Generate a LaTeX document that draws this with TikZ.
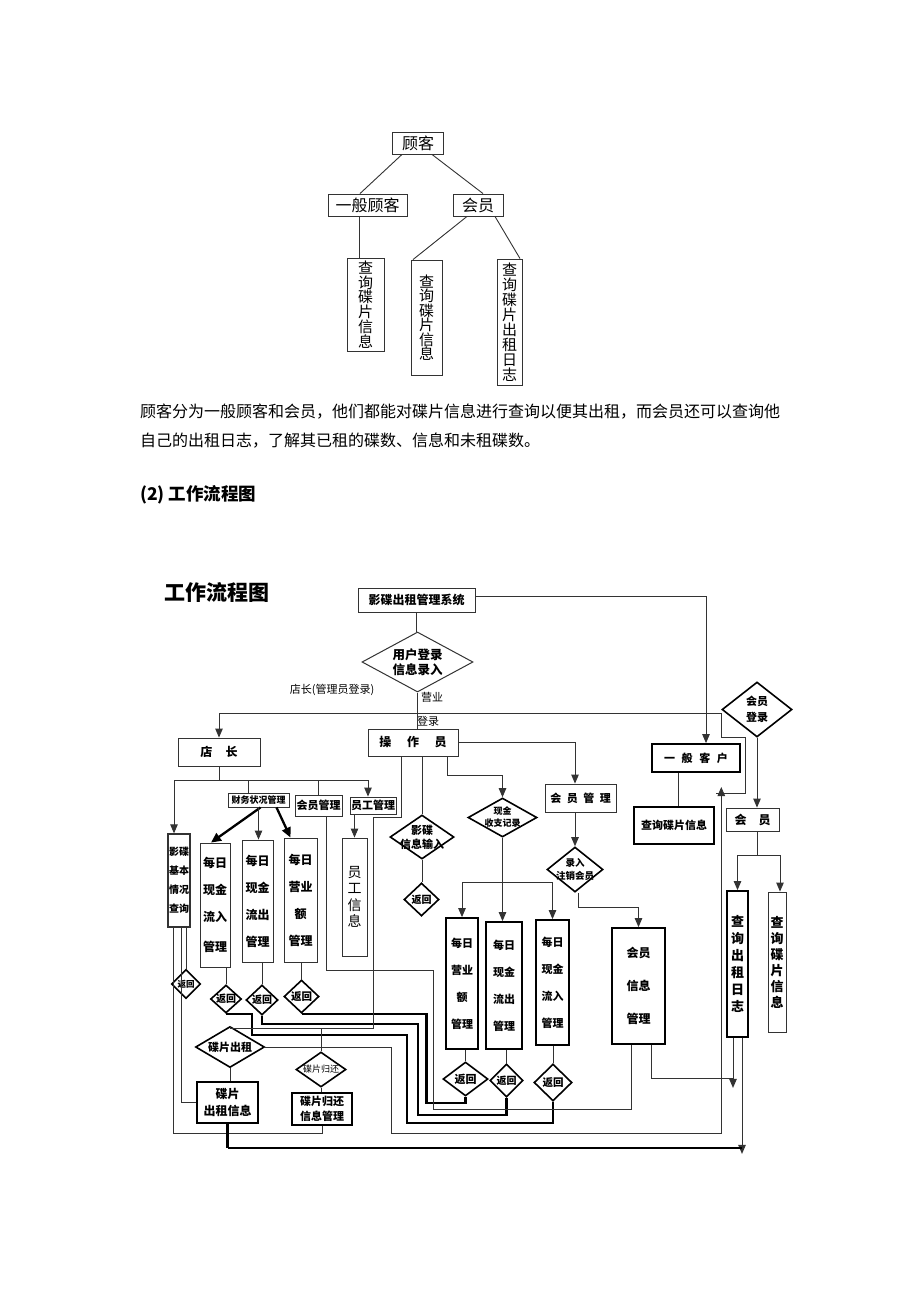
\documentclass[tikz,border=0pt]{standalone}
\usepackage{fontspec}
\setmainfont{Noto Sans CJK SC}
\usetikzlibrary{arrows.meta,shapes.geometric,calc}
\newcommand\myfs[2]{\fontsize{#1pt}{#2pt}\selectfont}
\begin{document}
\begin{tikzpicture}[x=1pt,y=-1pt,
  ln/.style={line width=0.9pt,draw=black!80},
  arr/.style={ln,-{Triangle[length=9pt,width=7.5pt]}},
  thk/.style={line width=2.3pt,draw=black},
  tarr/.style={thk,-{Triangle[length=10pt,width=9pt]}},
  sz/.style 2 args={minimum width=#1pt,minimum height=#2pt},
  box/.style={draw=black!80,line width=0.9pt,inner sep=0pt,align=center},
  tbox/.style={box,draw=black,line width=1.8pt},
  dia/.style={diamond,draw=black,line width=1.6pt,inner sep=0pt},
  lab/.style={inner sep=0pt,align=center},
  tr/.style={draw=black!80,line width=0.9pt,inner sep=0pt,align=center},
]
\useasboundingbox (0,0) rectangle (920,1302);
\fill[white] (0,0) rectangle (920,1302);

% ---------- customer tree ----------
\node[tr,sz={51}{22},font=\myfs{16}{16}] (t0) at (418,143) {顾客};
\node[tr,sz={79}{22},font=\myfs{16}{16}] (t1) at (367.5,205) {一般顾客};
\node[tr,sz={50}{22},font=\myfs{16}{16}] (t2) at (478,205) {会员};
\node[tr,sz={37}{93},font=\myfs{15}{14.8}] (t3) at (365.5,304.5) {查\\询\\碟\\片\\信\\息};
\node[tr,sz={31}{115},font=\myfs{15}{14.5}] (t4) at (426.5,317.5) {查\\询\\碟\\片\\信\\息};
\node[tr,sz={25}{126},font=\myfs{15}{15}] (t5) at (509.5,322) {查\\询\\碟\\片\\出\\租\\日\\志};
\draw[ln] ($(t0.south)+(-16,0)$) -- ($(t1.north)+(-7.5,0)$);
\draw[ln] ($(t0.south)+(14,0)$) -- ($(t2.north)+(5,0)$);
\draw[ln] ($(t1.south)+(-8.5,0)$) -- ($(t3.north)+(-6.5,0)$);
\draw[ln] ($(t2.south)+(-11,0)$) -- ($(t4.north)+(-13.5,0)$);
\draw[ln] ($(t2.south)+(17,0)$) -- ($(t5.north)+(10.5,0)$);

% ---------- paragraph and heading ----------
\node[anchor=west,inner sep=0pt,font=\myfs{16}{16}] (p1) at (140,412) {顾客分为一般顾客和会员，他们都能对碟片信息进行查询以便其出租，而会员还可以查询他};
\node[anchor=west,inner sep=0pt,font=\myfs{16}{16}] (p2) at (140,441) {自己的出租日志，了解其已租的碟数、信息和未租碟数。};
\node[anchor=west,inner sep=0pt,font=\bfseries\myfs{17.5}{18}] (h2) at (140,495) {(2)\hspace{4pt}工作流程图};

% ---------- flow chart nodes ----------
\node[inner sep=0pt,font=\bfseries\myfs{21}{21}] (ft) at (217,592) {工作流程图};
\node[box,sz={117}{24},font=\bfseries\myfs{12}{12}] (sys) at (416.5,600) {影碟出租管理系统};
\node[dia,draw=black!80,line width=1pt,sz={111}{60}] (login) at (417.5,662) {};
\node[lab,font=\bfseries\myfs{12.5}{15}] (logint) at (login) {用户登录\\信息录入};
\node[inner sep=0pt,font=\myfs{11}{11}] (lb1) at (332,690) {店长(管理员登录)};
\node[inner sep=0pt,font=\myfs{11}{11}] (lb2) at (432,697) {营业};
\node[inner sep=0pt,font=\myfs{11}{11}] (lb3) at (428,721) {登录};

\node[box,sz={82}{28},font=\bfseries\myfs{12}{12}] (shop) at (219,752) {店\hspace{1.1em}长};
\node[box,sz={90}{27},font=\bfseries\myfs{12}{12}] (op) at (413,742.5) {操\hspace{1.3em}作\hspace{1.3em}员};
\node[dia,sz={70}{55}] (ml) at (757,709.5) {};
\node[lab,font=\bfseries\myfs{11}{16}] (mlt) at (ml) {会员\\登录};
\node[tbox,sz={88}{28},font=\bfseries\myfs{11}{11}] (gen) at (696,758) {一\hspace{0.6em}般\hspace{0.6em}客\hspace{0.6em}户};

\node[box,sz={61}{14},font=\bfseries\myfs{9}{9}] (fin) at (258.5,800) {财务状况管理};
\node[box,sz={47}{21},font=\bfseries\myfs{11}{11}] (mm1) at (318.5,805.5) {会员管理};
\node[box,sz={46}{17},font=\bfseries\myfs{11}{11}] (emp) at (373,805.5) {员工管理};
\node[box,line width=1.3pt,sz={22}{93},font=\bfseries\myfs{10}{19}] (q1) at (179,880.5) {影碟\\基本\\情况\\查询};
\node[box,sz={30}{124},font=\bfseries\myfs{12}{27}] (in1) at (215,905) {每日\\现金\\流入\\[3pt]管理};
\node[box,sz={31}{122},font=\bfseries\myfs{12}{27}] (out1) at (257.5,901) {每日\\现金\\流出\\管理};
\node[box,sz={33}{124},font=\bfseries\myfs{12}{27}] (rev1) at (300.5,900) {每日\\营业\\额\\管理};
\node[box,sz={25}{118},font=\myfs{14}{16.5}] (empi) at (354.5,897) {员\\工\\信\\息};

\node[dia,sz={29}{29}] (r0) at (186,984) {};
\node[lab,font=\bfseries\myfs{8.5}{9}] (r0t) at (r0) {返回};
\node[dia,sz={31}{28}] (r1) at (226,999) {};
\node[lab,font=\bfseries\myfs{10}{10}] (r1t) at (r1) {返回};
\node[dia,sz={32}{30}] (r2) at (262,1000) {};
\node[lab,font=\bfseries\myfs{10}{10}] (r2t) at (r2) {返回};
\node[dia,sz={35}{33}] (r3) at (301.5,996.5) {};
\node[lab,font=\bfseries\myfs{10.5}{10}] (r3t) at (r3) {返回};

\node[dia,sz={69}{41}] (rent) at (230,1047) {};
\node[lab,font=\bfseries\myfs{11}{11}] (rentt) at (rent) {碟片出租};
\node[tbox,sz={61}{41},font=\bfseries\myfs{12}{17}] (renti) at (227.5,1102.5) {碟片\\出租信息};
\node[dia,sz={50}{35}] (ret) at (321,1069.5) {};
\node[lab,font=\myfs{9}{9}] (rett) at (ret) {碟片归还};
\node[tbox,sz={60}{32},font=\bfseries\myfs{11}{15}] (reti) at (322,1109) {碟片归还\\信息管理};

\node[dia,sz={64}{44}] (vin) at (422,837) {};
\node[lab,font=\bfseries\myfs{11}{14}] (vint) at (vin) {影碟\\信息输入};
\node[dia,sz={35}{33}] (r4) at (421.5,899.5) {};
\node[lab,font=\bfseries\myfs{10}{10}] (r4t) at (r4) {返回};
\node[dia,sz={69}{39}] (cash) at (502.5,817.5) {};
\node[lab,font=\bfseries\myfs{9}{12}] (casht) at (cash) {现金\\收支记录};
\node[box,sz={71}{28},font=\bfseries\myfs{11}{11}] (mm2) at (580.5,798) {会\hspace{0.5em}员\hspace{0.5em}管\hspace{0.5em}理};
\node[dia,sz={56}{45}] (reg) at (575,869.5) {};
\node[lab,font=\bfseries\myfs{9.5}{13}] (regt) at (reg) {录入\\注销会员};

\node[tbox,sz={32}{131},font=\bfseries\myfs{11}{27}] (rev2) at (462,983.5) {每日\\营业\\额\\管理};
\node[tbox,sz={36}{127},font=\bfseries\myfs{11}{27}] (out2) at (504,985.5) {每日\\现金\\流出\\管理};
\node[tbox,sz={33}{125},font=\bfseries\myfs{11}{27}] (in2) at (552.5,982.5) {每日\\现金\\流入\\管理};
\node[dia,sz={45}{34}] (r5) at (465.5,1079) {};
\node[lab,font=\bfseries\myfs{11}{11}] (r5t) at (r5) {返回};
\node[dia,sz={33}{33}] (r6) at (506.5,1080.5) {};
\node[lab,font=\bfseries\myfs{10}{10}] (r6t) at (r6) {返回};
\node[dia,sz={38}{37}] (r7) at (553,1082.5) {};
\node[lab,font=\bfseries\myfs{10.5}{10}] (r7t) at (r7) {返回};
\node[tbox,sz={53}{116},font=\bfseries\myfs{12}{33}] (memi) at (638.5,986) {会员\\信息\\管理};

\node[tbox,sz={80}{37},font=\bfseries\myfs{11}{11}] (qinfo) at (674,825.5) {查询碟片信息};
\node[box,sz={53}{23},font=\bfseries\myfs{12}{12}] (mem) at (752.5,819.5) {会\hspace{1em}员};
\node[tbox,sz={21}{146},font=\bfseries\myfs{13}{17}] (qlog) at (737.5,964) {查\\询\\出\\租\\日\\志};
\node[box,sz={18}{140},font=\bfseries\myfs{13}{16}] (qdisc) at (777,962) {查\\询\\碟\\片\\信\\息};

% ---------- connectors ----------
\draw[arr] ([yshift=4pt]sys.east) -| ($(gen.north)+(10,0)$);
\draw[ln] (sys.south) -- (sys.south |- login.north);
\draw[ln] (login.south) -- (login.south |- op.north);
\path (login.south) ++(0,21) coordinate (hl);
\draw[arr] (hl) -| (shop.north);
\draw[ln] (hl) -- (hl -| ml.west) -- ++(0,24) -- ++(24,0) -- ++(0,56) -- ++(-29,0);
\draw[arr] (ml.south) -- (ml.south |- mem.north);
\path ($(gen.south)+(-18,0)$) coordinate (g1);
\draw[ln] (g1) -- (g1 |- qinfo.north);
\draw[ln] ($(mem.south)+(5,0)$) -- ++(0,24) coordinate (m1);
\draw[arr] (m1) -| (qlog.north);
\draw[arr] (m1) -| ($(qdisc.north)+(3,0)$);

% shop manager branch
\draw[ln] (shop.south) -- ++(0,14) coordinate (s1);
\draw[arr] (s1) -| ($(q1.north)+(-5,0)$);
\draw[ln] (s1) -| ($(fin.north)+(-10,0)$);
\draw[ln] (s1) -| (mm1.north);
\draw[arr] (s1) -| ($(emp.north)+(-5,0)$);
\draw[tarr] ($(fin.south)+(2,0)$) -- ($(in1.north)+(-4,0)$);
\draw[arr] (fin.south) -- (fin.south |- out1.north);
\draw[tarr] ($(fin.south)+(18,0)$) -- ($(rev1.north)+(-10,0)$);
\draw[arr] (empi.north |- emp.south) -- (empi.north);

\draw[ln] (r0.north |- q1.south) -- (r0.north);
\draw[ln] ($(q1.south)+(2,0)$) |- (renti.west);
\draw[ln] ($(q1.south)+(-6,0)$) -- ++(0,206) -| (reti.south);
\draw[ln] (r1.north |- in1.south) -- (r1.north);
\draw[ln] (r2.north |- out1.south) -- (r2.north);
\draw[ln] (r3.north |- rev1.south) -- (r3.north);

\draw[thk] (r1.south) -- ++(26,0) -- ++(0,21) -- ++(155,0) -- ++(0,88) -| (r7.south);
\draw[thk] (r2.south) -- ++(0,8) -- ++(156,0) -- ++(0,91) -| (r6.south);
\draw[thk] (r3.south) -- ++(125,0) -- ++(0,89) -| (r5.south);

% operator branch
\draw[ln] ($(op.south)+(-12,0)$) -- ++(0,61) -- ++(-28,0) -- ++(0,211) coordinate (o1) -| (rent.north);
\draw[ln] (ret.north) -- (ret.north |- o1);
\draw[ln] (ret.south) -- (ret.south |- reti.north);
\draw[ln] (rent.south) -- (rent.south |- renti.north);
\draw[ln] (vin.north |- op.south) -- (vin.north);
\draw[arr] ($(op.south)+(34,0)$) -- ++(0,19) -| (cash.north);
\draw[arr] (op.east) -| ($(mm2.north)+(-5.5,0)$);
\draw[ln] (vin.south) -- (vin.south |- r4.north);
\draw[arr] (cash.south) -- (cash.south |- out2.north);
\path (cash.south) ++(0,45) coordinate (c1);
\draw[arr] (c1) -| (rev2.north);
\draw[arr] (c1) -| (in2.north);
\draw[arr] (reg.north |- mm2.south) -- (reg.north);
\draw[arr] ($(reg.south)+(3,0)$) -- ++(0,15) -| (memi.north);
\draw[ln] (r5.north |- rev2.south) -- (r5.north);
\draw[ln] (r6.north |- out2.south) -- (r6.north);
\draw[ln] (r7.north |- in2.south) -- (r7.north);

% member management line
\draw[ln] ($(mm1.south)+(7.5,0)$) -- ++(0,154) -- ++(107,0) -- ++(0,139) -| ($(memi.south)+(-7.5,0)$);
\path ($(qlog.south)+(-4.5,0)$) coordinate (qa);
\path ($(qlog.south)+(4.5,0)$) coordinate (qb);
\draw[arr] (qa) -- ++(0,50);
\draw[ln] ($(memi.south)+(12.5,0)$) -- ++(0,34) coordinate (mi1);
\draw[ln] (mi1) -- (mi1 -| qa);
\draw[arr] (qb) -- ++(0,116);
\draw[thk] (renti.south) -- ++(0,24) coordinate (ri1);
\draw[thk] (ri1) -- (ri1 -| qb);

\draw[arr] (rent.east) -- ++(126,0) -- ++(0,86) -- ++(330,0) -- ++(0,-346);
\end{tikzpicture}
\end{document}
